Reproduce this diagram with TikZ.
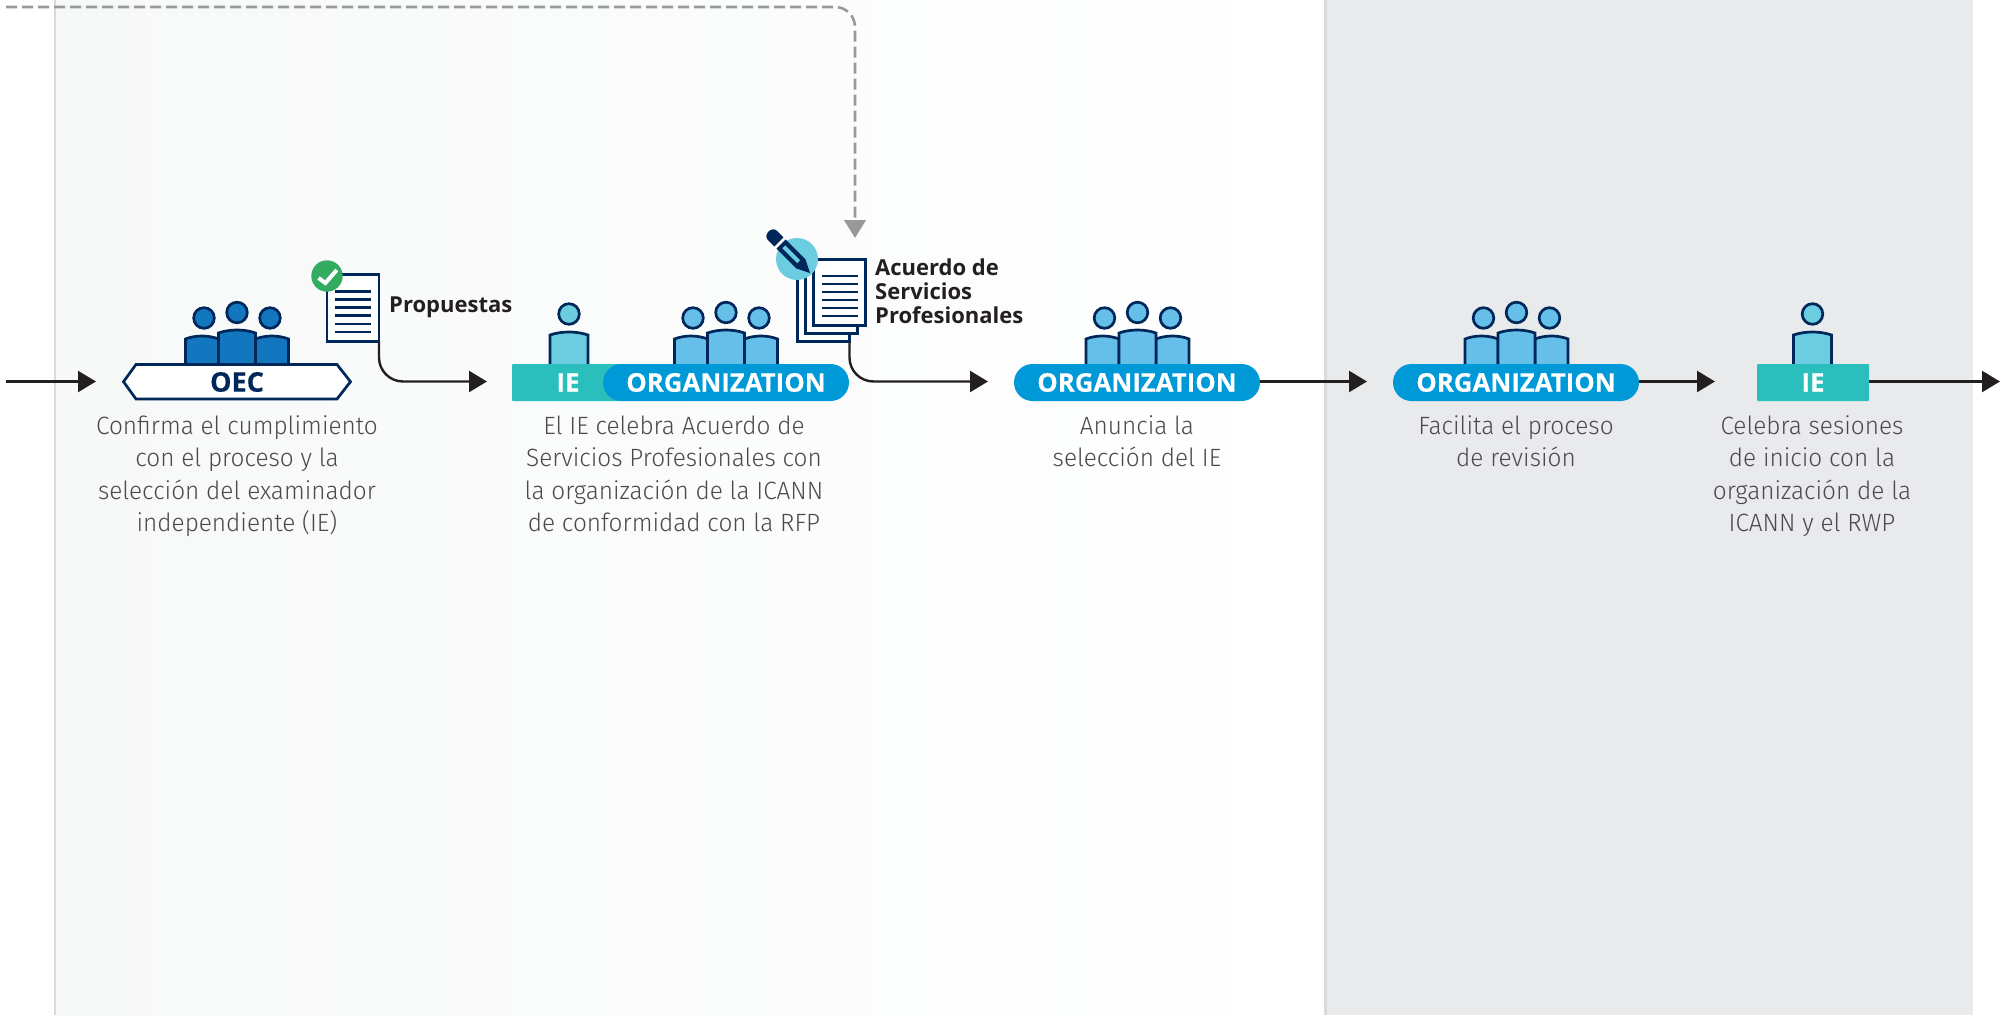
\documentclass[tikz,border=0pt]{standalone}
\usepackage{fontspec}
\usetikzlibrary{arrows.meta}
\newfontfamily\descf{Fira Sans}[UprightFont=* Light,FakeStretch=0.975]
\newfontfamily\labfam{Open Sans}[BoldFeatures={FakeBold=0.35}]
\newfontfamily\notefam{Open Sans}
\newcommand{\labf}{\labfam\bfseries}
\newcommand{\noteF}{\notefam\bfseries}
\newcommand{\lab}[1]{\raisebox{-1.3pt}{#1}}
\definecolor{navy}{HTML}{00275A}
\definecolor{oecblue}{HTML}{1277BF}
\definecolor{orgblue}{HTML}{66BFE8}
\definecolor{iecyan}{HTML}{6CCDE0}
\definecolor{pillblue}{HTML}{0099D8}
\definecolor{teal}{HTML}{2ABFBC}
\definecolor{ink}{HTML}{231F20}
\definecolor{dashgray}{HTML}{98999B}
\definecolor{bodytext}{HTML}{4A4A4C}
\definecolor{greenok}{HTML}{33AC5F}
\definecolor{panelgray}{HTML}{E9EAEB}
\definecolor{edgegray}{HTML}{D9DADB}
\definecolor{leftpanel}{HTML}{F7F8F8}
\newcommand{\firstl}{\rule{0pt}{20pt}}
\newcommand{\oneperson}[4]{% x1,x2,corner y,fill
  \path[fill=#4] ({#1},364) -- ({#1},#3) .. controls ({(#1)+0.3*((#2)-(#1))},{#3-4}) and ({(#1)+0.7*((#2)-(#1))},{#3-4}) .. ({#2},#3) -- ({#2},364) -- cycle;
  \draw[navyline] ({#1},364) -- ({#1},#3) .. controls ({(#1)+0.3*((#2)-(#1))},{#3-4}) and ({(#1)+0.7*((#2)-(#1))},{#3-4}) .. ({#2},#3) -- ({#2},364);
}
\newcommand{\threepeople}[2]{% cx, fill
  \oneperson{#1-51.5}{#1-18.5}{339}{#2}
  \oneperson{#1+18.5}{#1+51.5}{339}{#2}
  \oneperson{#1-18.5}{#1+18.5}{333}{#2}
  \draw[navyline,fill=#2] ({#1-33},318) circle (10.3);
  \draw[navyline,fill=#2] ({#1},312.5) circle (10.3);
  \draw[navyline,fill=#2] ({#1+33},318) circle (10.3);
}
\newcommand{\textlines}[3]{% x1,x2,y1
  \foreach \i in {0,...,5} \draw[navy,line width=2.4pt] (#1,{#3+8.05*\i}) -- (#2,{#3+8.05*\i});
}
\tikzset{
  navyline/.style={draw=navy,line width=2.7pt},
  conn/.style={draw=ink,line width=2.4pt,-{Triangle[length=18pt,width=21pt]}},
  feedback/.style={draw=dashgray,line width=2.6pt,dash pattern=on 11pt off 5pt,rounded corners=20pt,-{Triangle[length=18pt,width=21.5pt]}},
  pill/.style={fill=pillblue,text=white,rounded corners=18.5pt,minimum width=246pt,minimum height=37pt,inner sep=0pt,outer sep=0pt,font=\labf\fontsize{25.8}{30}\selectfont},
  iebox/.style={fill=teal,text=white,rounded corners=1pt,minimum width=112pt,minimum height=37pt,inner sep=0pt,outer sep=0pt,font=\labf\fontsize{25.8}{30}\selectfont},
  desc/.style={anchor=north,align=center,inner sep=0pt,text=bodytext,font=\descf\fontsize{25}{32.2}\selectfont},
  note/.style={anchor=base west,inner sep=0pt,align=left,text=ink,font=\noteF\fontsize{22}{24}\selectfont},
  docbox/.style={draw=navy,fill=white,line width=2.7pt,minimum width=52pt,minimum height=66.5pt,inner sep=0pt,outer sep=0pt},
}
\begin{document}
\begin{tikzpicture}[x=1pt,y=-1pt]
\useasboundingbox (0,0) rectangle (2011,1015);
\fill[white] (0,0) rectangle (2011,1015);
% panels
\shade[left color=leftpanel,right color=white] (54.5,0) rectangle (1325,1015);
\fill[panelgray] (1325,0) rectangle (1973,1015);
\draw[edgegray,line width=2pt] (54.5,0) -- (54.5,1015);
\draw[edgegray,line width=2.4pt] (1325.5,0) -- (1325.5,1015);
% free ends of connectors
\coordinate (startA) at (6,381.5);
\coordinate (tipA) at (96,381.5);
\coordinate (tipB) at (487,381.5);
\coordinate (tipC) at (988,381.5);
\coordinate (tipD) at (1367,381.5);
\coordinate (tipE) at (1715,381.5);
\coordinate (tipF) at (2000,381.5);
\coordinate (fbStart) at (6,7);
\coordinate (fbTip) at (855,238);
% people
\threepeople{237}{oecblue}
\threepeople{726}{orgblue}
\threepeople{1137.5}{orgblue}
\threepeople{1516.5}{orgblue}
\oneperson{550}{588}{335}{iecyan}
\draw[navyline,fill=iecyan] (569,314) circle (10.3);
\oneperson{1793.5}{1831.5}{335}{iecyan}
\draw[navyline,fill=iecyan] (1812.5,314) circle (10.3);
% OEC hexagon
\draw[navyline,fill=white,line join=miter] (123.5,381.7) -- (136,364.5) -- (337,364.5) -- (350.5,381.7) -- (337,399) -- (136,399) -- cycle;
\node[inner sep=0pt,text=navy,font=\labf\fontsize{27}{30}\selectfont] (oec) at (237,382) {OEC};
% role badges
\node[iebox] (ieA) at (568,382.5) {\lab{IE}};
\node[pill] (orgA) at (726,382.5) {\lab{ORGANIZATION}};
\node[pill] (orgB) at (1137,382.5) {\lab{ORGANIZATION}};
\node[pill] (orgC) at (1516,382.5) {\lab{ORGANIZATION}};
\node[iebox] (ieB) at (1813,382.5) {\lab{IE}};
% document: Propuestas
\node[docbox] (docP) at (353,308) {};
\textlines{335}{371}{291.5}
\fill[greenok] (327,276) circle (15.7);
\draw[white,line width=4pt] (318.5,278) -- (325.4,283) -- (336.8,270);
\node[note] (notP) at (389,312) {Propuestas};
% document stack: Acuerdo
\node[docbox] (docC) at (823.5,308.5) {};
\node[docbox] (docB) at (831.5,300.5) {};
\node[docbox] (docA) at (839.5,292.5) {};
\textlines{822}{858}{276}
\fill[iecyan] (797,259) circle (21);
\begin{scope}[shift={(810,273)},rotate=135]
  \fill[navy] (0,0) -- (13,-6.5) -- (41,-6.5) -- (41,6.5) -- (13,6.5) -- cycle;
  \fill[iecyan] (16,-2) rectangle (37,2);
  \fill[navy] (44,-6.5) -- (53,-6.5) .. controls (60.5,-6.5) and (60.5,6.5) .. (53,6.5) -- (44,6.5) -- cycle;
\end{scope}
\node[note] (notA) at (875,323) {Acuerdo de\\Servicios\\Profesionales};
% descriptions
\node[desc] (dA) at (237,414.5) {\firstl Confirma el cumplimiento\\con el proceso y la\\selección del examinador\\independiente (IE)};
\node[desc] (dB) at (674,414.5) {\firstl El IE celebra Acuerdo de\\Servicios Profesionales con\\la organización de la ICANN\\de conformidad con la RFP};
\node[desc] (dC) at (1137,414.5) {\firstl Anuncia la\\selección del IE};
\node[desc] (dD) at (1516,414.5) {\firstl Facilita el proceso\\de revisión};
\node[desc] (dE) at (1812,414.5) {\firstl Celebra sesiones\\de inicio con la\\organización de la\\ICANN y el RWP};
% connectors
\draw[conn] (startA) -- (tipA);
\draw[conn,rounded corners=24pt] (docP.south east) |- (tipB);
\draw[conn,rounded corners=24pt] (docC.south east) |- (tipC);
\draw[conn] (orgB.east |- tipD) -- (tipD);
\draw[conn] (orgC.east |- tipE) -- (tipE);
\draw[conn] (ieB.east |- tipF) -- (tipF);
\draw[feedback] (fbStart) -| (fbTip);
\end{tikzpicture}
\end{document}
